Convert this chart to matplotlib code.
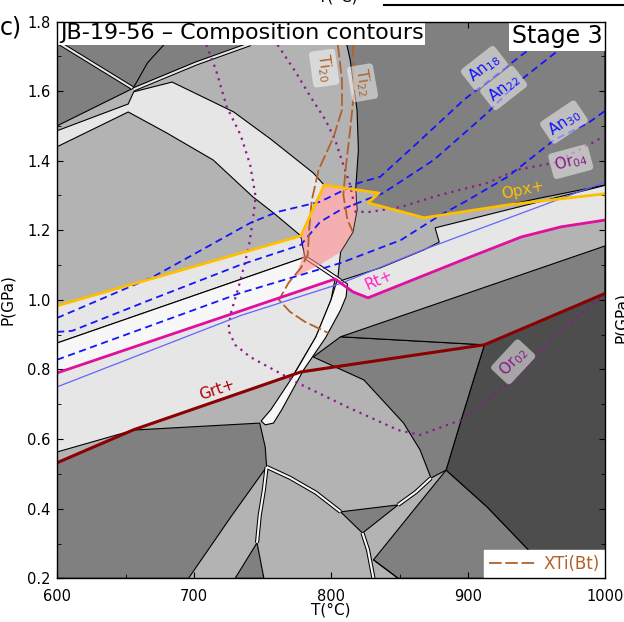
import matplotlib
matplotlib.use('Agg')
import matplotlib.pyplot as plt
from matplotlib.lines import Line2D

# grey levels of the assemblage fields
DARKEST = '#4d4d4d'
DARK = '#808080'
MID = '#b3b3b3'
LIGHT = '#e6e6e6'
WHITE = '#f7f7f7'

# ---- field outlines (T in degC, P in GPa) ----
field_top_left = [(600, 1.80), (741, 1.80), (739, 1.733), (702, 1.684), (656, 1.609), (600, 1.50)]
field_top_right = [(809, 1.80), (1000, 1.80), (1000, 1.330), (953, 1.293), (929, 1.273), (868, 1.236),
                   (827, 1.279), (835, 1.307), (818, 1.316), (820, 1.431), (819, 1.546), (814, 1.690),
                   (810, 1.76)]
field_upper_band = [(600, 1.486), (652, 1.563), (656, 1.598), (684, 1.626), (705, 1.586), (729, 1.540),
                    (756, 1.462), (787, 1.365), (795, 1.330), (778, 1.184), (758, 1.250), (743, 1.296),
                    (714, 1.402), (680, 1.480), (652, 1.540), (600, 1.440)]
field_below_opx = [(600, 0.983), (778, 1.184), (780, 1.144), (781, 1.123), (600, 0.876)]
field_lens = [(778, 1.184), (795, 1.330), (818, 1.316), (819, 1.259), (816, 1.195), (807, 1.138),
              (805, 1.063), (781, 1.123), (780, 1.144)]
field_white_band = [(600, 0.876), (781, 1.123), (793, 1.092), (805, 1.063), (803, 1.060), (600, 0.790)]
field_below_rt = [(600, 0.790), (803, 1.060), (800, 1.000), (789, 0.894), (773, 0.787), (656, 0.626),
                  (600, 0.563)]
field_sliver = [(805, 1.063), (800, 1.000), (789, 0.894), (772, 0.779), (756, 0.684), (749, 0.652),
                (752, 0.641), (758, 0.646), (764, 0.684), (780, 0.799), (796, 0.891), (807, 0.971),
                (811, 1.009), (812, 1.046)]
field_lower_left = [(600, 0.532), (656, 0.626), (748, 0.646), (752, 0.577), (753, 0.520), (727, 0.377),
                    (696, 0.200), (600, 0.200)]
field_bottom_tri = [(746, 0.302), (730, 0.200), (751, 0.200)]
field_center_tri = [(807, 0.391), (849, 0.411), (823, 0.330)]
field_bottom_right = [(831, 0.253), (884, 0.511), (914, 0.405), (944, 0.282), (948, 0.200), (849, 0.200)]
field_hot_corner = [(912, 0.871), (1001, 1.020), (1001, 0.200), (948, 0.200), (944, 0.282), (914, 0.405),
                    (884, 0.511), (895, 0.655), (904, 0.770)]
field_center_right = [(787, 0.836), (807, 0.894), (912, 0.871), (904, 0.770), (895, 0.655), (884, 0.511),
                      (873, 0.488), (865, 0.569), (853, 0.646), (824, 0.770)]
field_right_wedge = [(807, 0.894), (1000, 1.155), (1000, 1.020), (912, 0.871)]
field_right_band = [(807, 1.055), (836, 1.092), (868, 1.144), (879, 1.166), (876, 1.207), (1001, 1.330),
                    (1001, 1.230), (968, 1.210), (939, 1.181), (900, 1.121), (827, 1.006), (816, 1.023)]

# melt-bearing window
melt_window = [(778, 1.184), (795, 1.330), (818, 1.316), (819, 1.259), (816, 1.195), (807, 1.138),
               (792, 1.101), (774, 1.066), (778, 1.109), (780, 1.144)]

# narrow fields drawn as double lines
narrow_top_left = [(600, 1.742), (655, 1.609)]
narrow_top = [(656, 1.605), (702, 1.680), (741, 1.735)]
narrow_a = [(753, 0.520), (770, 0.489), (789, 0.446), (807, 0.391)]
narrow_b = [(753, 0.520), (751, 0.454), (748, 0.382), (746, 0.302)]
narrow_c = [(823, 0.330), (827, 0.282), (831, 0.200)]
narrow_d = [(849, 0.411), (862, 0.448), (873, 0.488)]
narrow_e = [(781, 1.123), (793, 1.092), (807, 1.055)]

# single reaction lines
line_curvy = [(678, 1.733), (666, 1.681), (659, 1.632), (656, 1.612)]
line_bottom = [(831, 0.253), (849, 0.200)]

# ---- phase-in lines ----
opx_in = [(600, 0.983), (778, 1.184), (795, 1.330), (835, 1.307), (827, 1.279), (868, 1.236),
          (929, 1.273), (1000, 1.305)]
rt_in = [(600, 0.790), (803, 1.060), (816, 1.023), (827, 1.006), (900, 1.121), (939, 1.181),
         (968, 1.210), (1001, 1.230)]
grt_in = [(600, 0.532), (656, 0.627), (778, 0.793), (912, 0.871), (1001, 1.020)]
thin_blue = [(600, 0.750), (734, 0.955), (807, 1.047), (868, 1.145), (999, 1.337)]

# ---- composition isopleths ----
an18 = [(600, 0.948), (670, 1.066), (741, 1.221), (761, 1.253), (792, 1.282), (820, 1.336), (836, 1.354),
        (860, 1.440), (897, 1.575), (944, 1.718), (968, 1.799)]
an22 = [(600, 0.908), (611, 0.911), (668, 1.000), (734, 1.101), (778, 1.158), (792, 1.224), (807, 1.259),
        (838, 1.307), (875, 1.402), (914, 1.537), (936, 1.624), (973, 1.739), (1001, 1.80)]
an30 = [(600, 0.828), (734, 1.020), (807, 1.106), (851, 1.172), (880, 1.244), (900, 1.287), (929, 1.354),
        (963, 1.460), (988, 1.509), (1001, 1.546)]
or02 = [(709, 1.733), (716, 1.661), (724, 1.554), (734, 1.474), (741, 1.388), (745, 1.296), (743, 1.230),
        (740, 1.152), (734, 1.057), (727, 0.963), (725, 0.914), (730, 0.871), (741, 0.836), (776, 0.761),
        (812, 0.692), (849, 0.626), (865, 0.612), (895, 0.655), (914, 0.713), (933, 0.770), (968, 0.914),
        (1001, 1.020)]
or04 = [(761, 1.733), (774, 1.656), (785, 1.584), (796, 1.517), (803, 1.460), (809, 1.388), (814, 1.330),
        (818, 1.253), (829, 1.253), (851, 1.267), (880, 1.302), (914, 1.336), (936, 1.374), (963, 1.394),
        (992, 1.454), (1001, 1.474)]
ti20 = [(805, 1.733), (808, 1.632), (808, 1.546), (802, 1.469), (791, 1.374), (786, 1.287), (784, 1.201),
        (783, 1.129), (778, 1.092), (769, 1.049), (762, 1.000), (770, 0.966), (781, 0.937), (798, 0.905)]
ti22 = [(816, 1.733), (817, 1.604), (814, 1.489), (811, 1.388), (809, 1.302), (812, 1.230), (816, 1.195)]

# isopleth labels: text, T, P, rotation
an_labels = [(r'An$_{18}$', 912, 1.666, 38), (r'An$_{22}$', 926, 1.609, 38), (r'An$_{30}$', 970, 1.511, 34)]
or_labels = [(r'Or$_{04}$', 975, 1.397, 15), (r'Or$_{02}$', 933, 0.822, 47)]
ti_labels = [(r'Ti$_{20}$', 795, 1.666, -82), (r'Ti$_{22}$', 823, 1.624, -80)]
phase_labels = [('Opx+', 940, 1.316, 12), ('Rt+', 835, 1.057, 24), ('Grt+', 717, 0.741, 19)]

# colours
C_AN = '#1414ff'
C_OR = '#8b1a8b'
C_TI = '#b0622b'
C_OPX = '#ffbf00'
C_RT = '#e0109f'
C_GRT = '#8b0000'


def xy(pts):
    return [p[0] for p in pts], [p[1] for p in pts]


fig = plt.figure(figsize=(6.24, 6.22), dpi=100)
ax = fig.add_axes([57 / 624, 1 - 578.3 / 622, 548 / 624, 556.8 / 622])
ax.set_facecolor(MID)
ax.set_xlim(600, 1000)
ax.set_ylim(0.2, 1.8)

fields = [
    (field_top_left, DARK), (field_top_right, DARK), (field_upper_band, LIGHT),
    (field_below_opx, LIGHT), (field_lens, LIGHT), (field_white_band, WHITE),
    (field_below_rt, LIGHT), (field_lower_left, DARK), (field_bottom_tri, DARK),
    (field_center_tri, DARK), (field_bottom_right, DARK), (field_hot_corner, DARKEST),
    (field_center_right, DARK), (field_right_wedge, DARK), (field_right_band, LIGHT),
    (field_sliver, WHITE),
]
for pts, col in fields:
    t, p = xy(pts)
    ax.fill(t, p, facecolor=col, edgecolor='black', lw=0.8, zorder=1)

for pts, col in [(narrow_top_left, LIGHT), (narrow_top, LIGHT), (narrow_a, WHITE), (narrow_b, WHITE),
                 (narrow_c, WHITE), (narrow_d, WHITE), (narrow_e, WHITE)]:
    t, p = xy(pts)
    ax.plot(t, p, color='black', lw=3.0, zorder=2, solid_capstyle='butt')
    ax.plot(t, p, color=col, lw=1.5, zorder=2.1, solid_capstyle='butt')

for pts in (line_curvy, line_bottom):
    t, p = xy(pts)
    ax.plot(t, p, color='black', lw=0.8, zorder=2)

t, p = xy(melt_window)
ax.fill(t, p, facecolor='#ff8c8c', edgecolor='none', alpha=0.6, zorder=3)

# isopleths
for pts in (or02, or04):
    t, p = xy(pts)
    ax.plot(t, p, color=C_OR, lw=1.6, ls=(0, (1, 2.2)), zorder=4)
for pts in (an18, an22, an30):
    t, p = xy(pts)
    ax.plot(t, p, color=C_AN, lw=1.3, ls=(0, (4, 2.5)), zorder=4)
for pts in (ti20, ti22):
    t, p = xy(pts)
    ax.plot(t, p, color=C_TI, lw=1.3, ls=(0, (7, 2)), zorder=4)

t, p = xy(thin_blue)
ax.plot(t, p, color='#6464ff', lw=0.9, zorder=4)
t, p = xy(rt_in)
ax.plot(t, p, color=C_RT, lw=2.0, zorder=4.5)
t, p = xy(grt_in)
ax.plot(t, p, color=C_GRT, lw=2.2, zorder=4.5)
t, p = xy(opx_in)
ax.plot(t, p, color=C_OPX, lw=2.0, zorder=4.6)

box = dict(boxstyle='round,pad=0.25', fc='white', ec='none', alpha=0.5)
for lab, tt, pp, rot in an_labels:
    ax.text(tt, pp, lab, color=C_AN, fontsize=11, rotation=rot, ha='center', va='center', bbox=box, zorder=5)
for lab, tt, pp, rot in or_labels:
    ax.text(tt, pp, lab, color=C_OR, fontsize=11, rotation=rot, ha='center', va='center', bbox=box, zorder=5)
for lab, tt, pp, rot in ti_labels:
    ax.text(tt, pp, lab, color=C_TI, fontsize=11, rotation=rot, ha='center', va='center', bbox=box, zorder=5)
for (lab, tt, pp, rot), col in zip(phase_labels, (C_OPX, '#ff20cc', '#b00000')):
    ax.text(tt, pp, lab, color=col, fontsize=11, rotation=rot, ha='center', va='center', zorder=5)

ax.text(0.005, 0.997, 'JB-19-56 \u2013 Composition contours', transform=ax.transAxes, ha='left', va='top',
        fontsize=16, bbox=dict(fc='white', ec='none', pad=1.2), zorder=6)
ax.text(0.995, 0.995, 'Stage 3', transform=ax.transAxes, ha='right', va='top', fontsize=17,
        bbox=dict(fc='white', ec='none', pad=2), zorder=6)

handle = Line2D([], [], color=C_TI, lw=1.3, ls=(0, (7, 2)))
leg = ax.legend([handle], ['XTi(Bt)'], loc='lower right', borderaxespad=0.0, fontsize=12,
                fancybox=False, framealpha=1, edgecolor='white', handlelength=2.9, handletextpad=0.4,
                borderpad=0.3, labelcolor=C_TI)
leg.set_zorder(7)

ax.set_xticks([600, 700, 800, 900, 1000])
ax.set_xticks([650, 750, 850, 950], minor=True)
ax.set_yticks([0.2, 0.4, 0.6, 0.8, 1.0, 1.2, 1.4, 1.6, 1.8])
ax.set_yticks([0.3, 0.5, 0.7, 0.9, 1.1, 1.3, 1.5, 1.7], minor=True)
ax.set_yticklabels(['0.2', '0.4', '0.6', '0.8', '1.0', '1.2', '1.4', '1.6', '1.8'])
ax.tick_params(which='both', direction='in', top=True, right=True, labelsize=10.5)
ax.tick_params(which='major', length=4.5)
ax.tick_params(which='minor', length=3)
ax.tick_params(axis='x', which='major', pad=7.5)
ax.tick_params(axis='y', which='major', pad=4.5)
ax.set_xlabel('T(\u00b0C)', fontsize=11, labelpad=-1)
ax.set_ylabel('P(GPa)', fontsize=11, labelpad=9)
for s in ax.spines.values():
    s.set_linewidth(1.0)
    s.set_zorder(8)

fig.text(0.0, 0.955, 'c)', fontsize=17, ha='left', va='center')
# neighbouring panel edges
fig.text(338 / 624, 1 - 2 / 622, 'T(\u00b0C)', fontsize=11, ha='center', va='baseline')
fig.add_artist(Line2D([384 / 624, 1.0], [1 - 5 / 622, 1 - 5 / 622], color='black', lw=1.5))
fig.text(614 / 624, 1 - 318 / 622, 'P(GPa)', fontsize=11, rotation=90, ha='left', va='center')

fig.savefig('out.png', dpi=100)
